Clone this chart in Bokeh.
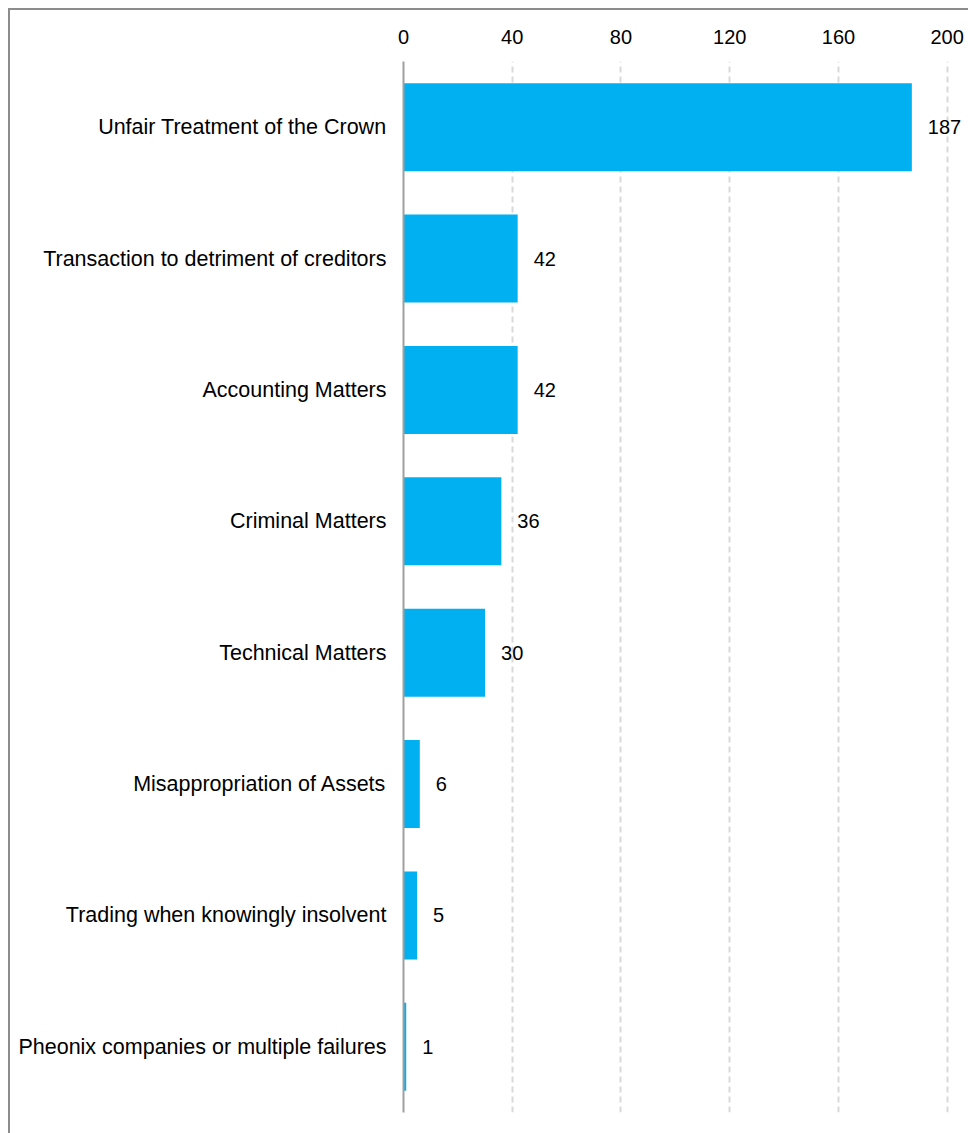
from bokeh.plotting import figure
from bokeh.models import Range1d, FactorRange, ColumnDataSource, FixedTicker, LabelSet
from bokeh.core.properties import value
from bokeh.embed import file_html
from bokeh.resources import INLINE

categories = [
    "Unfair Treatment of the Crown",
    "Transaction to detriment of creditors",
    "Accounting Matters",
    "Criminal Matters",
    "Technical Matters",
    "Misappropriation of Assets",
    "Trading when knowingly insolvent",
    "Pheonix companies or multiple failures",
]
values = [187, 42, 42, 36, 30, 6, 5, 1]
ticks = [0, 40, 80, 120, 160, 200]

FONT = "Liberation Sans"

src = ColumnDataSource(dict(cat=categories, val=values, lab=[str(v) for v in values]))

p = figure(
    width=960, height=1125,
    y_range=FactorRange(*reversed(categories)),
    x_range=Range1d(0, 206),
    x_axis_location="above",
    output_backend="svg", toolbar_location=None,
    min_border_left=393, min_border_right=7, min_border_top=51, min_border_bottom=23,
)
p.styles = {"border-left": "2px solid #8c8c8c", "border-top": "2px solid #8c8c8c",
            "box-sizing": "border-box", "margin-left": "8px", "margin-top": "8px"}

p.hbar(y="cat", right="val", left=0, height=0.67, source=src, color="#00B0F0", line_color=None)

labels = LabelSet(x="val", y="cat", text="lab", source=src, x_offset=16,
                  text_align="left", text_baseline="middle",
                  text_font=value(FONT), text_font_size="20px", text_color="black")
p.add_layout(labels)

p.outline_line_color = None
p.background_fill_color = "white"
p.border_fill_color = "white"

p.xaxis.ticker = FixedTicker(ticks=ticks)
p.xaxis.axis_line_color = None
p.xaxis.major_tick_line_color = None
p.xaxis.minor_tick_line_color = None
p.xaxis.major_label_text_font = FONT
p.xaxis.major_label_text_font_size = "20px"
p.xaxis.major_label_text_color = "black"
p.xaxis.major_label_standoff = 12

p.yaxis.axis_line_color = "#a0a0a0"
p.yaxis.axis_line_width = 2
p.yaxis.major_tick_line_color = None
p.yaxis.minor_tick_line_color = None
p.yaxis.major_label_text_font = FONT
p.yaxis.major_label_text_font_size = "21.5px"
p.yaxis.major_label_text_color = "black"
p.yaxis.major_label_standoff = 11

p.ygrid.grid_line_color = None
p.xgrid.grid_line_color = "#d9d9d9"
p.xgrid.grid_line_width = 2
p.xgrid.grid_line_dash = "6 4"

open("out.html", "w").write(file_html(p, INLINE))
